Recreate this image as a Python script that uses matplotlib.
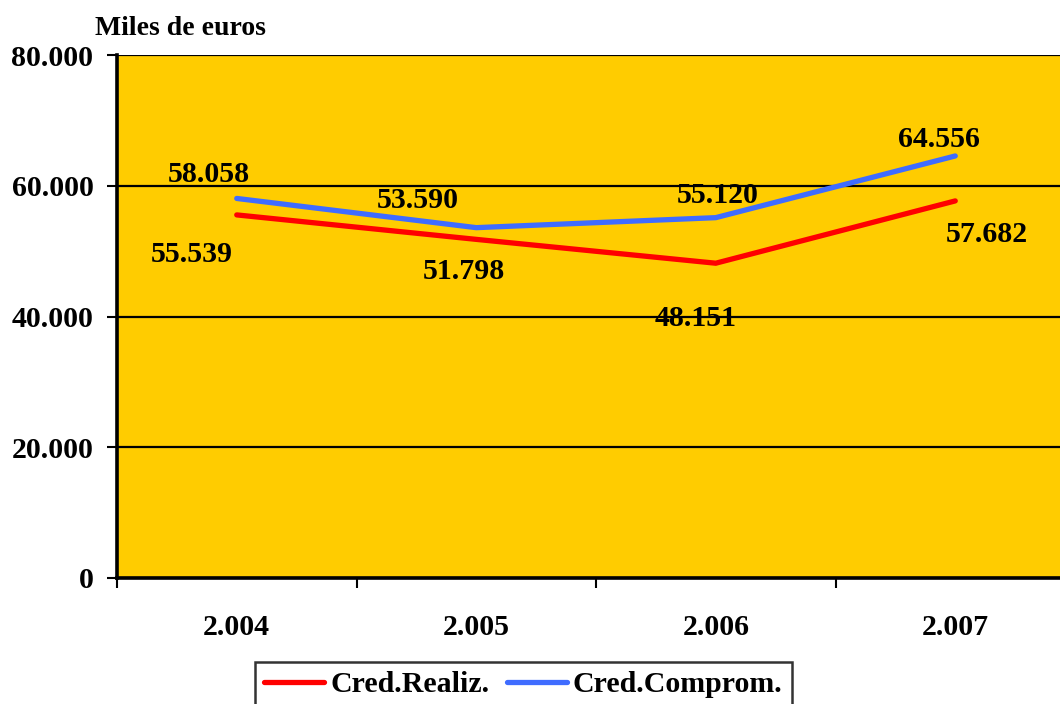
import matplotlib
matplotlib.use('Agg')
import matplotlib.pyplot as plt
import numpy as np

years = ['2.004', '2.005', '2.006', '2.007']
realiz = [55539, 51798, 48151, 57682]
comprom = [58058, 53590, 55120, 64556]
realiz_labels = ['55.539', '51.798', '48.151', '57.682']
comprom_labels = ['58.058', '53.590', '55.120', '64.556']
yticks = [0, 20000, 40000, 60000, 80000]
ytick_labels = ['0', '20.000', '40.000', '60.000', '80.000']

# label offsets in pixels (dx, dy to baseline)
realiz_off = [(-45, -47), (-12, -40), (-20, -63), (32, -41)]
comprom_off = [(-28, 16), (-59, 20), (2, 15), (-16, 9)]

plt.rcParams['font.family'] = 'Liberation Serif'
plt.rcParams['font.weight'] = 'bold'

fig = plt.figure(figsize=(10.6, 7.04), dpi=100)
ax = fig.add_axes([117 / 1060, 126 / 704, 958 / 1060, 523 / 704])
ax.set_facecolor('#FFCC00')

x = np.arange(len(years))
red, = ax.plot(x, realiz, color='#FF0000', lw=3.8, solid_capstyle='round',
               solid_joinstyle='miter', label='Cred.Realiz.', zorder=3)
blue, = ax.plot(x, comprom, color='#3F6CFF', lw=3.8, solid_capstyle='round',
                solid_joinstyle='miter', label='Cred.Comprom.', zorder=3)

fs = 21.5
for i in range(len(years)):
    ax.annotate(realiz_labels[i], (x[i], realiz[i]), xytext=realiz_off[i],
                textcoords='offset pixels', ha='center', va='baseline',
                fontsize=fs, fontweight='bold', zorder=4)
    ax.annotate(comprom_labels[i], (x[i], comprom[i]), xytext=comprom_off[i],
                textcoords='offset pixels', ha='center', va='baseline',
                fontsize=fs, fontweight='bold', zorder=4)

ax.set_xlim(-0.5, 3.5)
ax.set_ylim(0, 80000)
ax.set_yticks(yticks)
ax.set_yticklabels(ytick_labels, fontsize=fs, fontweight='bold')
ax.yaxis.grid(True, color='black', lw=1.6)
ax.set_axisbelow(True)

ax.set_xticks(x)
ax.set_xticklabels(years, fontsize=fs, fontweight='bold')
ax.set_xticks(np.arange(-0.5, 3.6, 1), minor=True)
ax.tick_params(axis='x', which='major', length=0, pad=26)
ax.tick_params(axis='x', which='minor', length=7, width=1.5, direction='out')
ax.tick_params(axis='y', length=7, width=1.5, direction='out', pad=10)

for s in ['left', 'bottom']:
    ax.spines[s].set_linewidth(2.6)
ax.spines['top'].set_visible(False)
ax.spines['right'].set_visible(False)

fig.text(95 / 1060, (704 - 35) / 704, 'Miles de euros', fontsize=20,
         fontweight='bold', ha='left', va='baseline')

leg = fig.legend(handles=[red, blue], loc='upper center',
                 bbox_to_anchor=(523.5 / 1060, (704 - 662) / 704),
                 ncol=2, frameon=True, fancybox=False, borderaxespad=0,
                 prop={'size': fs, 'weight': 'bold'},
                 handlelength=2.0, handletextpad=0.2, columnspacing=0.6,
                 borderpad=0.3)
leg.get_frame().set_edgecolor('black')
leg.get_frame().set_linewidth(1.8)

fig.savefig('out.png', dpi=100)
